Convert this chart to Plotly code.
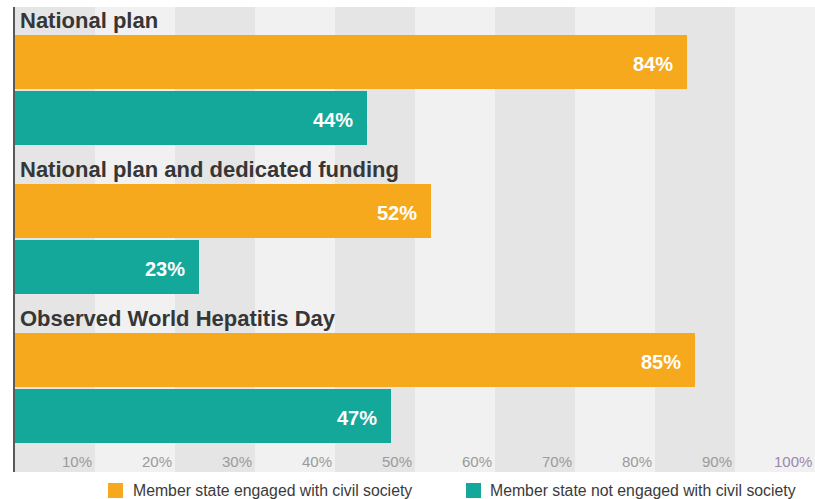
import plotly.graph_objects as go

# ---- data -------------------------------------------------------------
groups = ["National plan", "National plan and dedicated funding", "Observed World Hepatitis Day"]
engaged = [84, 52, 85]          # member state engaged with civil society (%)
not_engaged = [44, 23, 47]      # member state not engaged with civil society (%)
series_names = ["Member state engaged with civil society",
                "Member state not engaged with civil society"]
tick_values = [10, 20, 30, 40, 50, 60, 70, 80, 90, 100]
tick_labels = ["10%", "20%", "30%", "40%", "50%", "60%", "70%", "80%", "90%", "100%"]

# ---- layout constants -------------------------------------------------
W, H = 815, 499
M_L, M_R, M_T, M_B = 15, 0, 7, 27
PLOT_W = W - M_L - M_R
PLOT_H = H - M_T - M_B

ORANGE = "#f6a91d"
TEAL = "#14a89b"
BAND_DARK = "#e5e5e5"
BAND_LIGHT = "#f1f1f1"
HEAD_COLOR = "#363636"
TICK_COLOR = "#9a9a9a"
FONT = "Liberation Sans, Arial, sans-serif"

PITCH = 149          # vertical distance between groups (y units = px)
ORANGE_Y = 55        # centre of first orange bar
TEAL_Y = 111         # centre of first teal bar
BAR_W = 54
HEAD_Y = 13.5

y_orange = [ORANGE_Y + PITCH * i for i in range(len(groups))]
y_teal = [TEAL_Y + PITCH * i for i in range(len(groups))]
y_head = [HEAD_Y + PITCH * i for i in range(len(groups))]


def px_x(px):
    return (px - M_L) / PLOT_W


def px_y(py):
    return (H - M_B - py) / PLOT_H


fig = go.Figure()
fig.add_trace(go.Bar(x=engaged, y=y_orange, orientation="h", width=BAR_W,
                     marker=dict(color=ORANGE, line=dict(width=0)),
                     name=series_names[0], hoverinfo="x"))
fig.add_trace(go.Bar(x=not_engaged, y=y_teal, orientation="h", width=BAR_W,
                     marker=dict(color=TEAL, line=dict(width=0)),
                     name=series_names[1], hoverinfo="x"))

shapes = []
# alternating vertical bands behind the bars
edges = [0] + tick_values
for i in range(len(edges) - 1):
    if i % 2 == 0:
        shapes.append(dict(type="rect", xref="x", yref="paper",
                           x0=edges[i], x1=edges[i + 1], y0=0, y1=1,
                           fillcolor=BAND_DARK, line=dict(width=0), layer="below"))

annotations = []
# group headings
for name, y in zip(groups, y_head):
    annotations.append(dict(x=0, y=y, xref="x", yref="y", text=f"<b>{name}</b>",
                            showarrow=False, xanchor="left", yanchor="middle", xshift=3,
                            font=dict(family=FONT, size=22, color=HEAD_COLOR)))
# value labels inside bar ends
for vals, ys in ((engaged, y_orange), (not_engaged, y_teal)):
    for v, y in zip(vals, ys):
        annotations.append(dict(x=v, y=y, xref="x", yref="y", text=f"<b>{v}%</b>",
                                showarrow=False, xanchor="right", yanchor="middle",
                                xshift=-12, yshift=-2,
                                font=dict(family=FONT, size=20, color="white")))
# axis tick labels, right aligned against each band edge
for v, t in zip(tick_values, tick_labels):
    annotations.append(dict(x=v, y=454, xref="x", yref="y", text=t,
                            showarrow=False, xanchor="right", yanchor="middle", xshift=-1,
                            font=dict(family=FONT, size=15,
                                      color="#9a88a8" if v == 100 else TICK_COLOR)))

# legend
legend_items = [(series_names[0], ORANGE, 108, 131), (series_names[1], TEAL, 466, 488)]
for name, color, sq_x, tx_x in legend_items:
    shapes.append(dict(type="rect", xref="paper", yref="paper",
                       x0=px_x(sq_x), x1=px_x(sq_x + 15), y0=px_y(498), y1=px_y(483),
                       fillcolor=color, line=dict(width=0)))
    annotations.append(dict(x=px_x(tx_x), y=px_y(491), xref="paper", yref="paper",
                            text=name, showarrow=False, xanchor="left", yanchor="middle",
                            font=dict(family=FONT, size=15.8, color="#3a3a3a")))

fig.update_layout(
    width=W, height=H,
    margin=dict(l=M_L, r=M_R, t=M_T, b=M_B, pad=0),
    paper_bgcolor="white",
    plot_bgcolor=BAND_LIGHT,
    showlegend=False,
    barmode="overlay",
    shapes=shapes,
    annotations=annotations,
    xaxis=dict(range=[0, 100], showticklabels=False, showgrid=False,
               zeroline=False, fixedrange=True),
    yaxis=dict(range=[PLOT_H, 0], showticklabels=False, showgrid=False, zeroline=False,
               showline=True, linecolor="#5a5a5a", linewidth=2, fixedrange=True),
)

fig.write_html("out.html", config={"displayModeBar": False})
